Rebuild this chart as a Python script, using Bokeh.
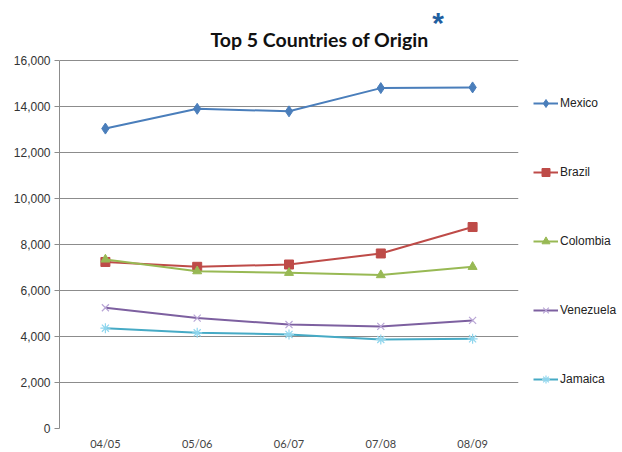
from bokeh.plotting import figure
from bokeh.models import Legend, LegendItem, Label, NumeralTickFormatter, FixedTicker
from bokeh.embed import file_html
from bokeh.resources import INLINE

years = ["04/05", "05/06", "06/07", "07/08", "08/09"]
mexico = [13040, 13900, 13790, 14800, 14830]
brazil = [7240, 7030, 7130, 7610, 8760]
colombia = [7350, 6840, 6770, 6670, 7030]
venezuela = [5250, 4800, 4520, 4440, 4700]
jamaica = [4360, 4160, 4090, 3870, 3900]
y_ticks = [0, 2000, 4000, 6000, 8000, 10000, 12000, 14000, 16000]
title_text = "Top 5 Countries of Origin"

# frame spans the title area too; value axis stops at 16,000
Y_TOP = 16000 * 428 / 368

p = figure(x_range=years, y_range=(0, Y_TOP), width=614, height=444,
           frame_width=459, frame_height=428,
           output_backend="svg", toolbar_location=None,
           min_border_left=59, min_border_top=0, min_border_bottom=16, min_border_right=96)
p.outline_line_color = None
p.background_fill_color = "white"

p.xgrid.grid_line_color = None
p.ygrid.grid_line_color = "#8c8c8c"
p.ygrid.grid_line_width = 1

p.yaxis.ticker = FixedTicker(ticks=y_ticks)
p.yaxis.bounds = (0, 16000)
p.yaxis.formatter = NumeralTickFormatter(format="0,0")
p.yaxis.axis_line_color = "#8c8c8c"
p.yaxis.major_tick_line_color = "#8c8c8c"
p.yaxis.major_tick_in = 0
p.yaxis.major_tick_out = 5
p.yaxis.minor_tick_line_color = None
p.yaxis.major_label_text_font = "Liberation Sans"
p.yaxis.major_label_text_font_size = "12px"
p.yaxis.major_label_text_color = "#333333"
p.yaxis.major_label_standoff = 4

p.xaxis.axis_line_color = None
p.xaxis.major_tick_line_color = None
p.xaxis.minor_tick_line_color = None
p.xaxis.major_label_text_font = "Lato"
p.xaxis.major_label_text_font_size = "11px"
p.xaxis.major_label_text_color = "#444444"
p.xaxis.major_label_standoff = 2

series = [
    ("Mexico", mexico, "#4A7EBB", "diamond", 11),
    ("Brazil", brazil, "#BE4B48", "square", 9),
    ("Colombia", colombia, "#98B954", "triangle", 9),
    ("Venezuela", venezuela, "#7D60A0", "x", 10),
    ("Jamaica", jamaica, "#46AAC5", "asterisk", 10),
]

items = []
for name, vals, color, marker, size in series:
    r1 = p.line(years, vals, line_color=color, line_width=2)
    if marker in ("x", "asterisk"):
        mcolor = "#b9a6d6" if marker == "x" else "#8fd6ee"
        r2 = p.scatter(years, vals, marker=marker, size=size, line_color=mcolor, line_width=1.2)
    else:
        r2 = p.scatter(years, vals, marker=marker, size=size, fill_color=color, line_color=color)
    items.append(LegendItem(label=name, renderers=[r1, r2]))

legend = Legend(items=items, location=(15, 39), orientation="vertical",
                glyph_width=25, glyph_height=20, spacing=49, padding=0, margin=0,
                label_text_font="Liberation Sans", label_text_font_size="12px",
                label_text_color="#222222", label_standoff=2,
                border_line_color=None, background_fill_alpha=0)
p.add_layout(legend, "right")

title = Label(x=2.832, y=16913, text=title_text, text_align="center",
              text_font="Lato", text_font_style="bold", text_font_size="19.5px",
              text_color="#111111", text_baseline="alphabetic")
p.add_layout(title)
star = Label(x=4.123, y=17650, text="*", text_align="center",
             text_font="Liberation Sans", text_font_style="bold", text_font_size="30px",
             text_color="#1F5FA0", text_baseline="alphabetic")
p.add_layout(star)

open("out.html", "w").write(file_html(p, INLINE))
